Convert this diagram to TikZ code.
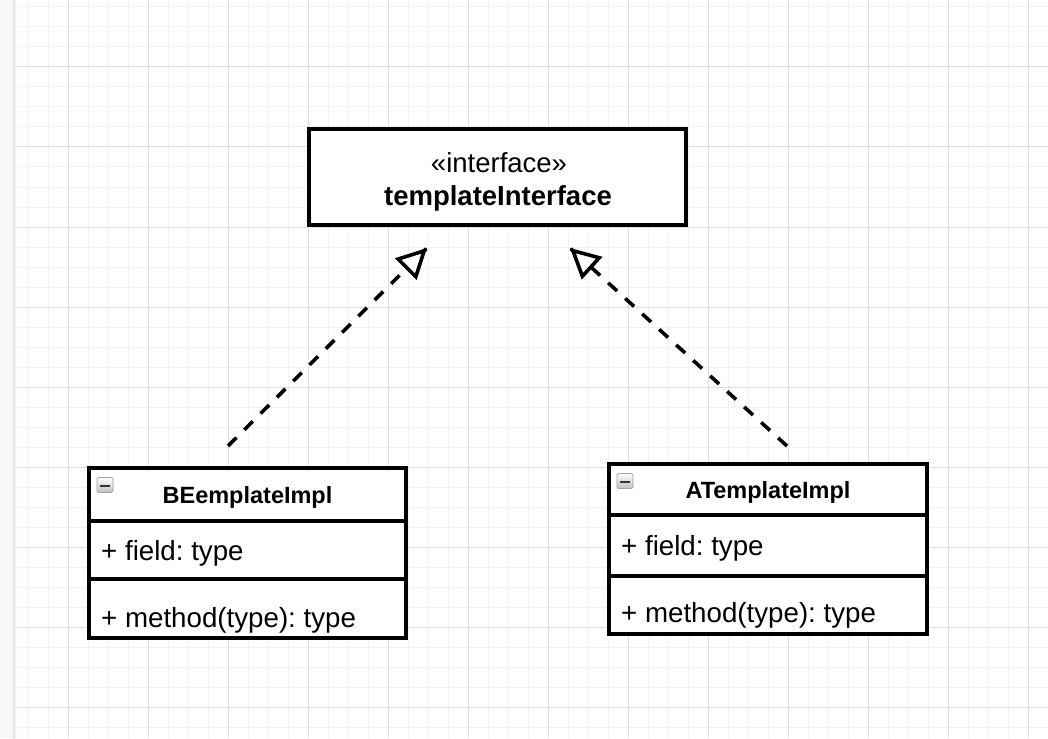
\documentclass[tikz,border=0pt]{standalone}
\usepackage{fontspec}
\setmainfont{Liberation Sans}
\usetikzlibrary{arrows.meta,calc}
\definecolor{gridminor}{HTML}{F2F2F2}
\definecolor{gridmajor}{HTML}{DEDEDE}
\definecolor{strip}{HTML}{F5F7F9}
\frenchspacing
\begin{document}
\begin{tikzpicture}[x=1pt,y=-1pt,
  box/.style={draw=black, line width=4pt, fill=white, rectangle, inner sep=0pt},
  ttl/.style={font=\fontsize{23.5}{28}\selectfont\bfseries, anchor=base, inner sep=0pt},
  member/.style={font=\fontsize{27.7}{32}\selectfont, anchor=base west, inner sep=0pt},
  ifacetxt/.style={font=\fontsize{27.5}{32}\selectfont, anchor=base, inner sep=0pt},
  realize/.style={line width=3.6pt, dash pattern=on 12pt off 11pt, shorten >=27pt},
  realizetip/.style={line width=3.6pt, solid,
    -{Triangle[fill=white, length=30pt, width=30pt, line width=3.6pt]}},
  collapse/.style={top color=white, bottom color=gray!50, draw=gray!70, line width=0.9pt, rounded corners=1.5pt}
]
\useasboundingbox (0,0) rectangle (1048,738);
\fill[white] (0,0) rectangle (1048,738);
% left strip
\fill[strip] (0,0) rectangle (13,738);
\fill[gray!22] (13,0) rectangle (14.5,738);
\shade[left color=gray!12, right color=white] (14.5,0) rectangle (16.5,738);
% grid
\foreach \x in {28,48,...,1048} \draw[gridminor, line width=1pt] (\x,0) -- (\x,738);
\foreach \y in {7,27,...,738} \draw[gridminor, line width=1pt] (16.5,\y) -- (1048,\y);
\foreach \x in {68,148,...,1048} \draw[gridmajor, line width=1pt] (\x,0) -- (\x,738);
\foreach \y in {67,147,...,738} \draw[gridmajor, line width=1pt] (16.5,\y) -- (1048,\y);

% interface
\node[box, minimum width=377pt, minimum height=96pt] (iface) at (497.5,177) {};
\node[ifacetxt] (ifacest) at (499,172) {«interface»};
\node[ifacetxt, font=\fontsize{27.5}{32}\selectfont\bfseries] (ifacename) at (498,205) {templateInterface};

% class B
\node[box, minimum width=317pt, minimum height=53pt] (btitle) at (247.5,494.5) {};
\node[box, minimum width=317pt, minimum height=58pt] (bfield) at (247.5,550) {};
\node[box, minimum width=317pt, minimum height=59pt] (bmethod) at (247.5,608.5) {};
\node[ttl] (btitletxt) at (247.5,503) {BEemplateImpl};
\node[member] (bfieldtxt) at (101,560) {+ field: type};
\node[member] (bmethodtxt) at (101,627) {+ method(type): type};
\shade[collapse] (97,477.5) rectangle (113,492.5);
\fill[black!80] (100,484.5) rectangle (110,487);

% class A
\node[box, minimum width=318pt, minimum height=51pt] (atitle) at (768,489.5) {};
\node[box, minimum width=318pt, minimum height=61pt] (afield) at (768,545.5) {};
\node[box, minimum width=318pt, minimum height=58pt] (amethod) at (768,605) {};
\node[ttl] (atitletxt) at (768,498) {ATemplateImpl};
\node[member] (afieldtxt) at (621,555) {+ field: type};
\node[member] (amethodtxt) at (621,622) {+ method(type): type};
\shade[collapse] (617,473.5) rectangle (633,488.5);
\fill[black!80] (620,480.5) rectangle (630,483);

% realization connectors
\coordinate (bstart) at (228,446);
\coordinate (bend) at (427,248);
\coordinate (astart) at (787,446);
\coordinate (aend) at (570,248);
\draw[realize] (bstart) -- (bend);
\draw[realizetip] ($(bend)!1pt!(bstart)$) -- (bend);
\draw[realize] (astart) -- (aend);
\draw[realizetip] ($(aend)!1pt!(astart)$) -- (aend);
\end{tikzpicture}
\end{document}
